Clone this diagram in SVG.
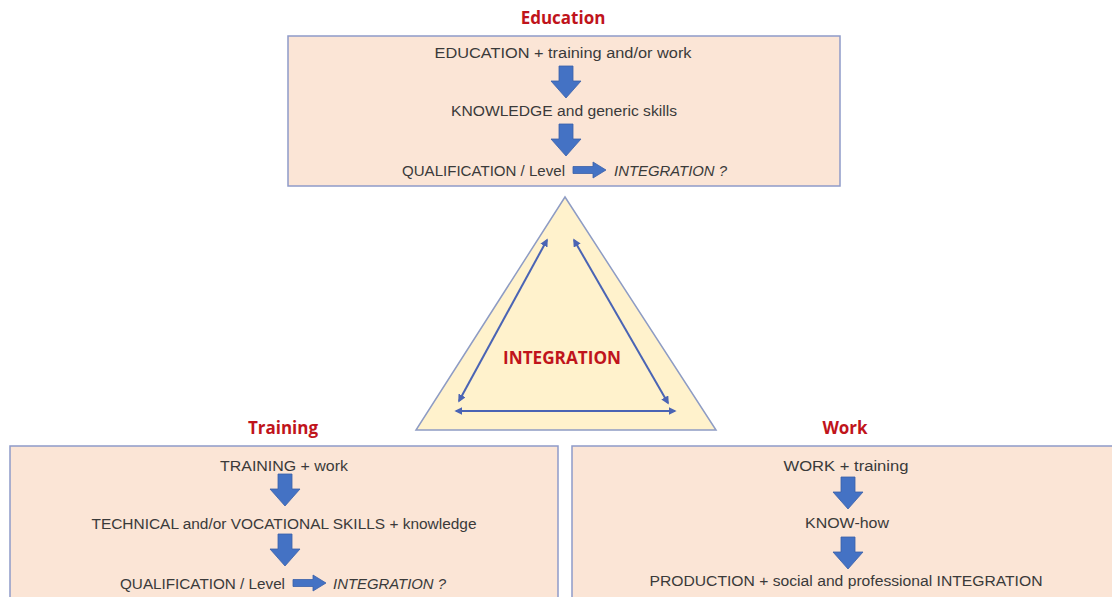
<svg xmlns="http://www.w3.org/2000/svg" width="1112" height="597" viewBox="0 0 1112 597">
<defs>
<style>
.box{fill:#FBE5D6;stroke:#8F9AC9;stroke-width:1.5}
.title{font-family:"Open Sans","Liberation Sans",sans-serif;font-weight:bold;font-size:17px;fill:#C0141B;text-anchor:middle}
.t{font-family:"Liberation Sans",sans-serif;font-size:15.5px;fill:#3A3A3A;text-anchor:middle}
.ti{font-family:"Liberation Sans",sans-serif;font-size:15.5px;fill:#3A3A3A;font-style:italic}
.tl{font-family:"Liberation Sans",sans-serif;font-size:15.5px;fill:#3A3A3A}
.ba{fill:#4472C4;stroke:#3A5FA8;stroke-width:0.8}
.dl{stroke:#4A64B4;stroke-width:2;fill:none;marker-start:url(#ah);marker-end:url(#ah)}
</style>
<marker id="ah" viewBox="0 0 10 10" refX="8" refY="5" markerWidth="4" markerHeight="4" orient="auto-start-reverse">
<path d="M0,0 L10,5 L0,10 z" fill="#4A64B4"/>
</marker>
<path id="down" d="M-7,0 H7 V15 H15 L0,32 L-15,15 H-7 Z"/>
<path id="right" d="M0,-3.5 H20 V-8 L33,0 L20,8 V3.5 H0 Z"/>
</defs>
<rect width="1112" height="597" fill="#FFFFFF"/>

<g id="education">
<text class="title" x="563" y="24">Education</text>
<rect class="box" x="288" y="36" width="552" height="150"/>
<text class="t" x="563" y="58" textLength="257" lengthAdjust="spacingAndGlyphs">EDUCATION + training and/or work</text>
<use href="#down" class="ba" x="566" y="66"/>
<text class="t" x="564" y="116" textLength="226" lengthAdjust="spacingAndGlyphs">KNOWLEDGE and generic skills</text>
<use href="#down" class="ba" x="566" y="124"/>
<text class="tl" x="402" y="176" textLength="163" lengthAdjust="spacingAndGlyphs">QUALIFICATION / Level</text>
<use href="#right" class="ba" x="573" y="170"/>
<text class="ti" x="614" y="176" textLength="113" lengthAdjust="spacingAndGlyphs">INTEGRATION ?</text>
</g>

<g id="integration">
<polygon points="565,197 416,430 716,430" fill="#FFF2CC" stroke="#8E9CC4" stroke-width="1.5"/>
<text class="title" x="562" y="364" textLength="118" lengthAdjust="spacingAndGlyphs">INTEGRATION</text>
</g>

<g id="training">
<text class="title" x="283" y="434">Training</text>
<rect class="box" x="10" y="446" width="548" height="160"/>
<text class="t" x="284" y="471" textLength="128" lengthAdjust="spacingAndGlyphs">TRAINING + work</text>
<use href="#down" class="ba" x="285" y="474"/>
<text class="t" x="284" y="529" textLength="385" lengthAdjust="spacingAndGlyphs">TECHNICAL and/or VOCATIONAL SKILLS + knowledge</text>
<use href="#down" class="ba" x="285" y="534"/>
<text class="tl" x="120" y="589" textLength="165" lengthAdjust="spacingAndGlyphs">QUALIFICATION / Level</text>
<use href="#right" class="ba" x="293" y="583"/>
<text class="ti" x="333" y="589" textLength="113" lengthAdjust="spacingAndGlyphs">INTEGRATION ?</text>
</g>

<g id="work">
<text class="title" x="845" y="434">Work</text>
<rect class="box" x="572" y="446" width="560" height="160"/>
<text class="t" x="846" y="471" textLength="125" lengthAdjust="spacingAndGlyphs">WORK + training</text>
<use href="#down" class="ba" x="848" y="477"/>
<text class="t" x="847" y="528" textLength="84" lengthAdjust="spacingAndGlyphs">KNOW-how</text>
<use href="#down" class="ba" x="848" y="537"/>
<text class="t" x="846" y="586" textLength="393" lengthAdjust="spacingAndGlyphs">PRODUCTION + social and professional INTEGRATION</text>
</g>

<g id="connectors">
<line class="dl" x1="547" y1="240" x2="459" y2="401"/>
<line class="dl" x1="574" y1="240" x2="668" y2="403"/>
<line class="dl" x1="456" y1="411" x2="675" y2="411"/>
</g>
</svg>
